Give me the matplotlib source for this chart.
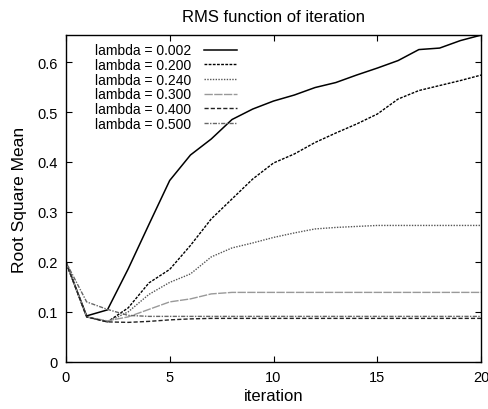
import matplotlib.pyplot as plt
import numpy as np

plt.rcParams['font.family'] = ['Liberation Sans', 'DejaVu Sans']

iteration = np.arange(0, 21)

rms_0002 = [0.200, 0.092, 0.104, 0.186, 0.275, 0.363, 0.414, 0.446, 0.485, 0.506, 0.522,
            0.534, 0.549, 0.559, 0.574, 0.588, 0.603, 0.625, 0.628, 0.643, 0.654]
rms_0200 = [0.200, 0.090, 0.080, 0.108, 0.158, 0.185, 0.233, 0.286, 0.326, 0.366, 0.398,
            0.416, 0.439, 0.458, 0.476, 0.496, 0.526, 0.543, 0.553, 0.563, 0.574]
rms_0240 = [0.200, 0.090, 0.080, 0.100, 0.135, 0.159, 0.176, 0.210, 0.228, 0.238, 0.249,
            0.258, 0.266, 0.269, 0.271, 0.273, 0.273, 0.273, 0.273, 0.273, 0.273]
rms_0300 = [0.200, 0.090, 0.082, 0.090, 0.105, 0.120, 0.126, 0.136, 0.139, 0.139, 0.139,
            0.139, 0.139, 0.139, 0.139, 0.139, 0.139, 0.139, 0.139, 0.139, 0.139]
rms_0400 = [0.200, 0.090, 0.080, 0.079, 0.081, 0.084, 0.086, 0.087, 0.087, 0.087, 0.087,
            0.087, 0.087, 0.087, 0.087, 0.087, 0.087, 0.087, 0.087, 0.087, 0.087]
rms_0500 = [0.200, 0.120, 0.105, 0.093, 0.091, 0.091, 0.091, 0.091, 0.091, 0.091, 0.091,
            0.091, 0.091, 0.091, 0.091, 0.091, 0.091, 0.091, 0.091, 0.091, 0.091]

labels = ['lambda = 0.002', 'lambda = 0.200', 'lambda = 0.240',
          'lambda = 0.300', 'lambda = 0.400', 'lambda = 0.500']

fig = plt.figure(figsize=(4.88, 4.10), dpi=100)
ax = fig.add_axes([0.135, 0.115, 0.851, 0.797])

ax.plot(iteration, rms_0002, color='black', lw=1.1, ls='-', label=labels[0])
ax.plot(iteration, rms_0200, color='black', lw=1.0, ls=(0, (2, 1)), label=labels[1])
ax.plot(iteration, rms_0240, color='#555555', lw=1.0, ls=(0, (1, 1)), label=labels[2])
ax.plot(iteration, rms_0300, color='#999999', lw=1.0, ls=(0, (6, 1)), label=labels[3])
ax.plot(iteration, rms_0400, color='#222222', lw=1.0, ls=(0, (3, 1.5)), label=labels[4])
ax.plot(iteration, rms_0500, color='#666666', lw=1.0, ls=(0, (3, 1, 1, 1)), label=labels[5])

ax.set_xlim(0, 20)
ax.set_ylim(0, 0.654)
ax.set_xticks([0, 5, 10, 15, 20])
ax.set_yticks([0, 0.1, 0.2, 0.3, 0.4, 0.5, 0.6])
ax.set_yticklabels(['0', '0.1', '0.2', '0.3', '0.4', '0.5', '0.6'])
ax.tick_params(direction='in', top=True, right=True, length=4, labelsize=10.5, pad=6)
for s in ax.spines.values():
    s.set_linewidth(1.0)

ax.set_title('RMS function of iteration', fontsize=12, pad=10)
ax.set_xlabel('iteration', fontsize=12, labelpad=3)
ax.set_ylabel('Root Square Mean', fontsize=12.5, labelpad=7)

ax.legend(loc='upper left', frameon=False, markerfirst=False, fontsize=10,
          handlelength=2.4, handletextpad=0.9, labelspacing=0.05, borderaxespad=0.2,
          bbox_to_anchor=(0.05, 1.0))

fig.savefig('out.png', dpi=100)
